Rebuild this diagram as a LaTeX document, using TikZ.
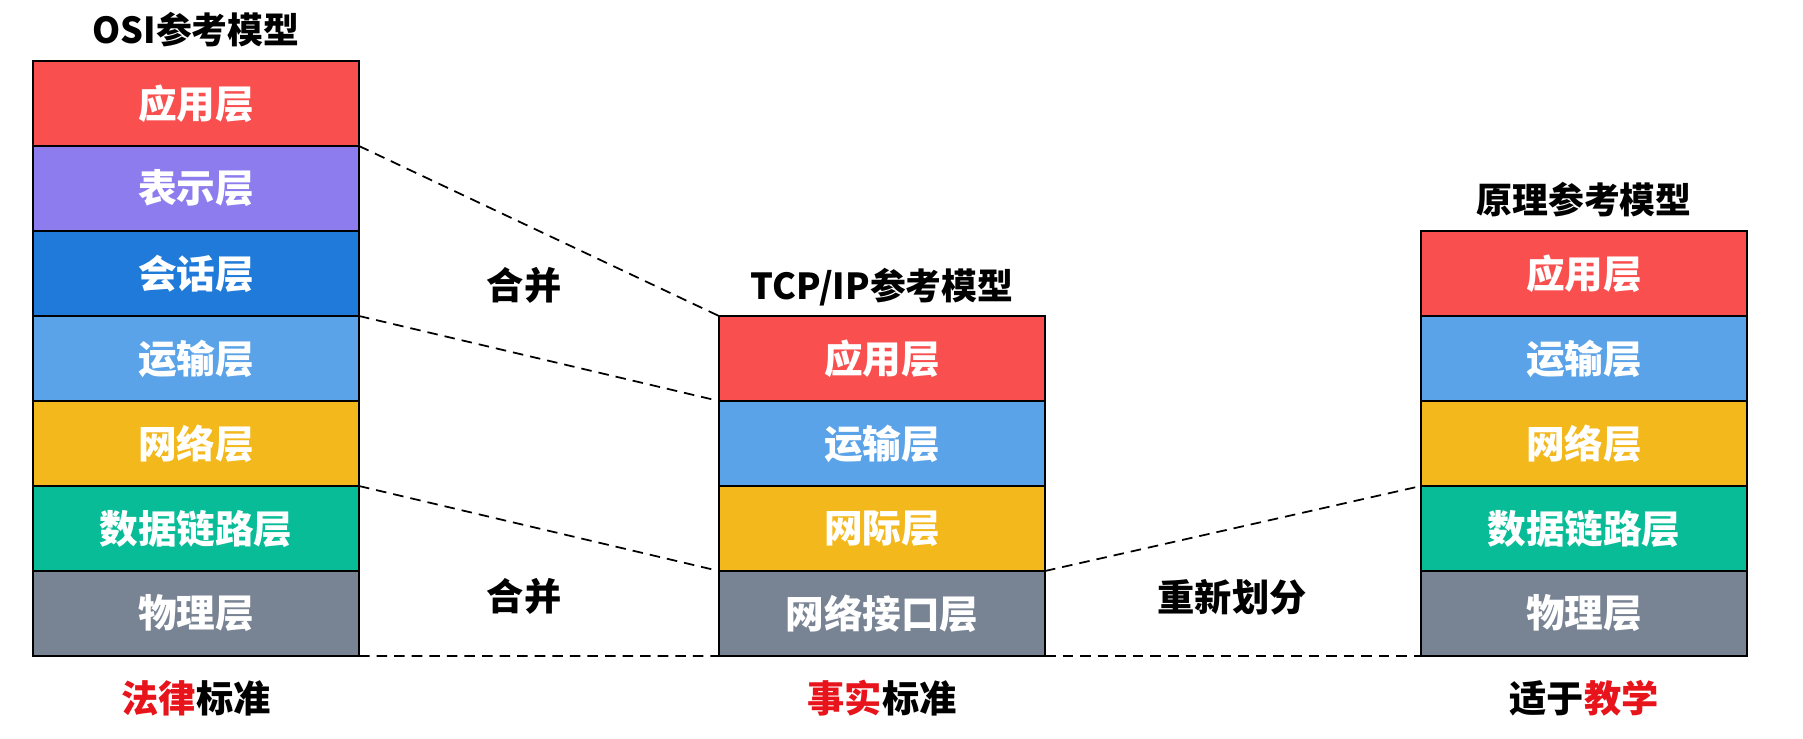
\documentclass[tikz,border=0pt]{standalone}
\usepackage{fontspec}
\setmainfont{Noto Sans CJK SC}
\usetikzlibrary{positioning}

\definecolor{appred}{HTML}{F94F4F}
\definecolor{prepurple}{HTML}{8D7CEE}
\definecolor{sesblue}{HTML}{1F7AD9}
\definecolor{transblue}{HTML}{5BA3E8}
\definecolor{netyellow}{HTML}{F3B81C}
\definecolor{linkgreen}{HTML}{08BC98}
\definecolor{phygray}{HTML}{788394}
\definecolor{hilite}{HTML}{E8141B}

\tikzset{
  layer/.style={draw=black, line width=0.8pt, outer sep=0pt, inner sep=0pt,
    minimum width=3.26cm, minimum height=0.85cm, text=white,
    font=\bfseries\fontsize{11}{12}\selectfont},
  title/.style={font=\bfseries\fontsize{10.2}{12}\selectfont},
  note/.style={font=\bfseries\fontsize{10.6}{12}\selectfont},
  link/.style={dash pattern=on 3pt off 2pt, line width=0.5pt}
}

\begin{document}
\begin{tikzpicture}
    		\useasboundingbox (0,0) rectangle (18.03,-7.39);
    		% OSI
    		\node[title] (osititle) at (1.96,-0.30) {OSI参考模型};
    		\node[layer, fill=appred] (osi7) at (1.96,-1.035) {应用层};
    		\node[layer, fill=prepurple, below=0pt of osi7] (osi6) {表示层};
    		\node[layer, fill=sesblue, below=0pt of osi6] (osi5) {会话层};
    		\node[layer, fill=transblue, below=0pt of osi5] (osi4) {运输层};
    		\node[layer, fill=netyellow, below=0pt of osi4] (osi3) {网络层};
    		\node[layer, fill=linkgreen, below=0pt of osi3] (osi2) {数据链路层};
    		\node[layer, fill=phygray, below=0pt of osi2] (osi1) {物理层};
    		\node[note] (osinote) at (1.96,-6.98) {\textcolor{hilite}{法律}标准};
    		
    		% TCP/IP
    		\node[title] (tcptitle) at (8.82,-2.87) {TCP/IP参考模型};
    		\node[layer, fill=appred] (tcp4) at (8.82,-3.585) {应用层};
    		\node[layer, fill=transblue, below=0pt of tcp4] (tcp3) {运输层};
    		\node[layer, fill=netyellow, below=0pt of tcp3] (tcp2) {网际层};
    		\node[layer, fill=phygray, below=0pt of tcp2] (tcp1) {网络接口层};
    		\node[note] (tcpnote) at (8.82,-6.98) {\textcolor{hilite}{事实}标准};
    		
    		% Lehrmodell
    		\node[title] (eductitle) at (15.84,-2.00) {原理参考模型};
    		\node[layer, fill=appred] (educ5) at (15.84,-2.735) {应用层};
    		\node[layer, fill=transblue, below=0pt of educ5] (educ4) {运输层};
    		\node[layer, fill=netyellow, below=0pt of educ4] (educ3) {网络层};
    		\node[layer, fill=linkgreen, below=0pt of educ3] (educ2) {数据链路层};
    		\node[layer, fill=phygray, below=0pt of educ2] (educ1) {物理层};
    		\node[note] (educnote) at (15.84,-6.98) {适于\textcolor{hilite}{教学}};
    		
    		%Linien:
    		\draw[link] (osi7.south east) -- (tcp4.north west);
    		\draw[link] (osi5.south east) -- (tcp4.south west);
    		\draw[link] (osi3.south east) -- (tcp2.south west);
    		\draw[link] (osi1.south east) -- (tcp1.south west);
    		\draw[link] (tcp2.south east) -- (educ3.south west);
    		\draw[link] (tcp1.south east) -- (educ1.south west);
    		
    		\node[note] (merge1) at (5.24,-2.85) {合并};
    		\node[note] (merge2) at (5.24,-5.96) {合并};
    		\node[note] (split) at (12.32,-5.97) {重新划分};
    		
    		\end{tikzpicture}
\end{document}
